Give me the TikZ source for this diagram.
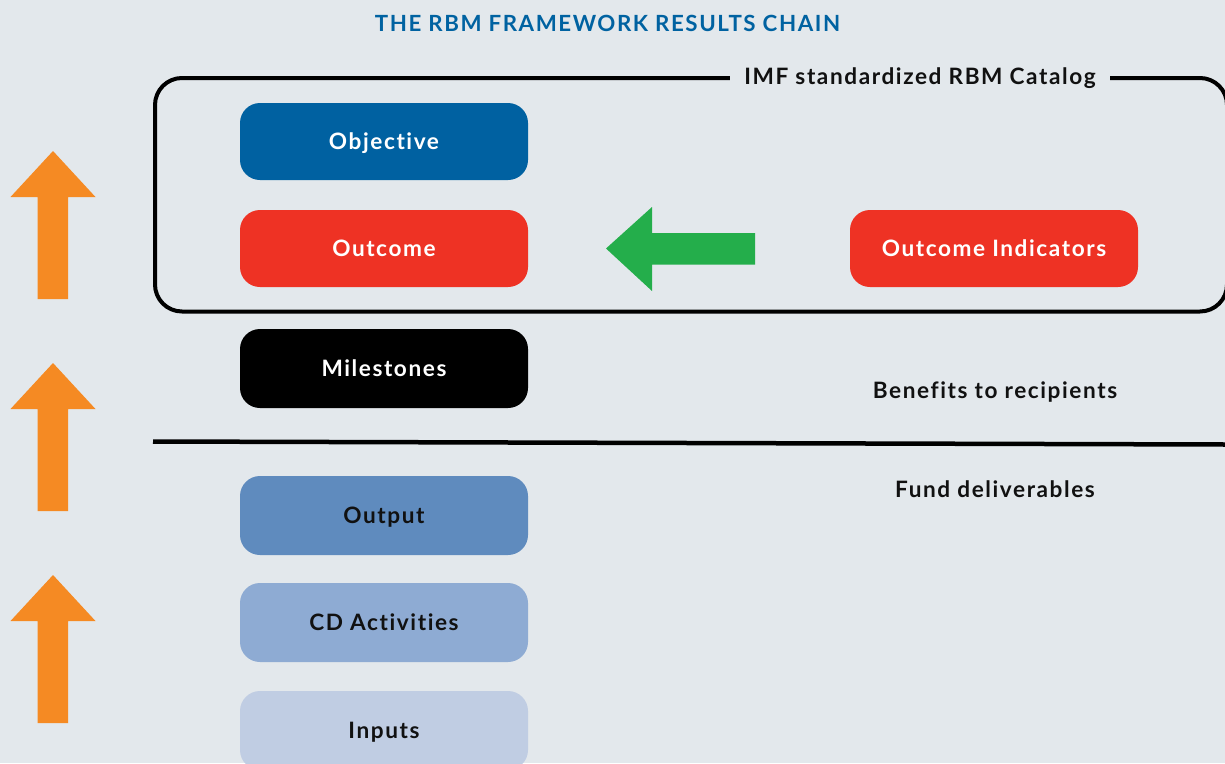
\documentclass[tikz,border=0pt]{standalone}
\usepackage{fontspec}
\setmainfont{Lato}[BoldFont={Lato Bold}, LetterSpace=7, RawFeature={-liga}]
\definecolor{bgc}{HTML}{E3E8EC}
\definecolor{titleblue}{HTML}{0062A1}
\definecolor{objblue}{HTML}{0061A1}
\definecolor{outred}{HTML}{EE3224}
\definecolor{outpblue}{HTML}{5F8BBE}
\definecolor{actblue}{HTML}{8EABD3}
\definecolor{inpblue}{HTML}{C0CDE3}
\definecolor{arrorange}{HTML}{F58A23}
\definecolor{arrgreen}{HTML}{24AE4B}
\definecolor{txt}{HTML}{111111}
\tikzset{
  labelfont/.style={font=\fontsize{22.6}{24}\selectfont\bfseries, text height=16.2pt, text depth=0pt},
  chainbox/.style={labelfont, rectangle, rounded corners=20pt, minimum width=288pt,
    minimum height=77pt, inner sep=0pt},
  plaintext/.style={labelfont, text=txt, inner sep=0pt},
}
\begin{document}
\begin{tikzpicture}[x=1pt,y=-1pt]
  \useasboundingbox[fill=bgc] (0,0) rectangle (1225,763);

  % title
  \node[plaintext, text=titleblue, font=\fontsize{22.3}{24}\selectfont\bfseries] (title) at (607.5,23) {THE RBM FRAMEWORK RESULTS CHAIN};

  % catalog frame
  \draw[line width=4pt, rounded corners=27pt] (155,78) rectangle (1227,311.5);
  \node[plaintext, fill=bgc, inner xsep=14pt, inner ysep=4pt] (catalog) at (920,76.3) {IMF standardized RBM Catalog};

  % divider between recipient benefits and fund deliverables
  \coordinate (divL) at (153,441.5);
  \coordinate (divR) at (1226,444.5);
  \draw[line width=4.5pt] (divL) -- (divR);

  % results chain boxes
  \node[chainbox, fill=objblue, text=white] (objective) at (384,141.5) {Objective};
  \node[chainbox, fill=outred, text=white] (outcome) at (384,248.5) {Outcome};
  \node[chainbox, fill=outred, text=white] (indicators) at (994,248.5) {Outcome Indicators};
  \node[chainbox, fill=black, text=white, minimum height=79pt] (milestones) at (384,368.5) {Milestones};
  \node[chainbox, fill=outpblue, text=txt, minimum height=79pt] (output) at (384,515.5) {Output};
  \node[chainbox, fill=actblue, text=txt, minimum height=79pt] (activities) at (384,622.5) {CD Activities};
  \node[chainbox, fill=inpblue, text=txt, minimum height=79pt] (inputs) at (384,730.5) {Inputs};

  \node[plaintext] (benefits) at (995,390.8) {Benefits to recipients};
  \node[plaintext] (deliverables) at (995,489.8) {Fund deliverables};

  % green arrow: indicators feed the outcome
  \fill[arrgreen] (606,248.5) -- (652,207) -- (652,233) -- (755,233) -- (755,264.5)
    -- (652,264.5) -- (652,291) -- cycle;

  % orange upward arrows
  \foreach \t in {151,363,575}{
    \fill[arrorange] (53,\t) -- (95.5,\t+46) -- (68,\t+46) -- (68,\t+148)
      -- (37.5,\t+148) -- (37.5,\t+46) -- (10.5,\t+46) -- cycle;
  }
\end{tikzpicture}
\end{document}
